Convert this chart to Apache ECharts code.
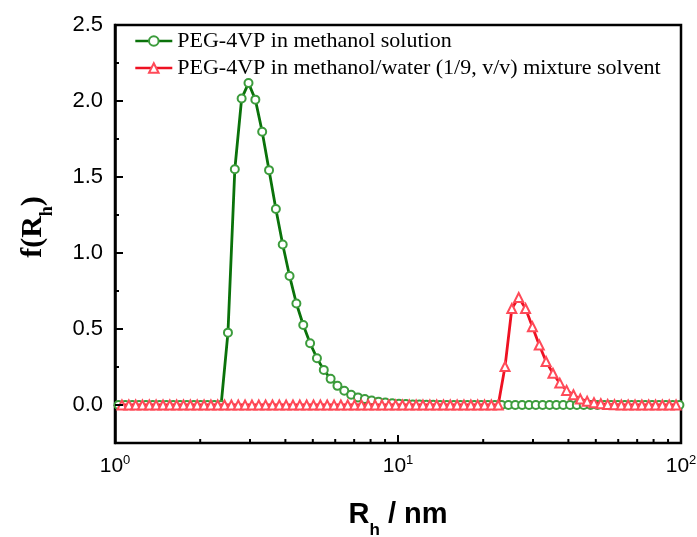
<!DOCTYPE html>
<html>
<head>
<meta charset="utf-8">
<script src="https://cdn.jsdelivr.net/npm/echarts@6/dist/echarts.min.js"></script>
<style>html,body{margin:0;padding:0;background:#fff;}#c{width:697px;height:537px;}</style>
</head>
<body>
<div id="c"></div>
<script>
// ---- data ----
const seriesNames = ['PEG-4VP in methanol solution', 'PEG-4VP in methanol/water (1/9, v/v) mixture solvent'];
const xGreen = [1.029,1.088,1.151,1.216,1.286,1.359,1.437,1.519,1.606,1.698,1.795,1.898,2.007,2.122,2.243,2.371,2.507,2.651,2.802,2.963,3.133,3.312,3.502,3.702,3.914,4.138,4.375,4.626,4.891,5.171,5.467,5.780,6.110,6.460,6.830,7.221,7.635,8.072,8.534,9.022,9.539,10.08,10.66,11.27,11.91,12.60,13.32,14.08,14.88,15.74,16.63,17.59,18.60,19.67,20.78,21.98,23.23,24.56,25.97,27.46,29.03,30.69,32.44,34.31,36.27,38.34,40.54,42.85,45.31,47.91,50.65,53.55,56.61,59.85,63.28,66.90,70.73,74.77,79.05,83.58,88.36,93.41,98.73];
const yGreen = [0,0,0,0,0,0,0,0,0,0,0,0,0,0,0,0,
  0.476,1.551,2.016,2.118,2.009,1.798,1.545,1.289,1.056,0.849,0.668,0.526,0.406,0.308,0.231,0.172,0.126,0.094,0.067,0.050,0.039,0.030,0.022,0.016,0.012,0.009,0.006,0.004,0.003,0.002,0.001,
  0,0,0,0,0,0,0,0,0,0,0,0,0,0,0,0,0,0,0,0,0,0,0,0,0,0,0,0,0,0,0,0,0,0,0,0];
const xRed = [1.058,1.119,1.183,1.250,1.322,1.397,1.478,1.562,1.651,1.746,1.846,1.952,2.064,2.182,2.306,2.438,2.578,2.726,2.881,3.047,3.221,3.405,3.601,3.806,4.024,4.255,4.498,4.756,5.029,5.317,5.621,5.943,6.282,6.642,7.023,7.425,7.850,8.300,8.775,9.277,9.808,10.37,10.96,11.59,12.25,12.96,13.70,14.48,15.30,16.18,17.10,18.09,19.12,20.22,21.37,22.60,23.89,25.25,26.70,28.23,29.85,31.56,33.36,35.28,37.29,39.42,41.68,44.06,46.59,49.26,52.08,55.06,58.21,61.54,65.06,68.79,72.72,76.88,81.28,85.93,90.85,96.05];
const yRed = [0,0,0,0,0,0,0,0,0,0,0,0,0,0,0,0,0,0,0,0,0,0,0,0,0,0,0,0,0,0,0,0,0,0,0,0,0,0,0,0,0,0,0,0,0,0,0,0,0,0,0,0,0,0,0,0,
  0.253,0.635,0.707,0.635,0.515,0.395,0.286,0.209,0.144,0.096,0.067,0.039,0.025,0.015,0.008,0.004,0.002,
  0,0,0,0,0,0,0,0,0];
const xMajorTicks = [1, 10, 100];
const xMinorTicks = [2,3,4,5,6,7,8,9,20,30,40,50,60,70,80,90];
const yMajorTicks = [0, 0.5, 1.0, 1.5, 2.0, 2.5];
const yMinorTicks = [0.25, 0.75, 1.25, 1.75, 2.25];
const xMin = 1, xMax = 100, yMin = -0.25, yMax = 2.5;

// ---- chart ----
const chart = echarts.init(document.getElementById('c'), null, {renderer: 'canvas'});
const pair = (xs, ys) => xs.map((x, i) => [x, ys[i]]);

function xTickItem(len) { return v => [v, yMin, len]; }
function yTickItem(len) { return v => [xMin, v, len]; }

const option = {
  animation: false,
  backgroundColor: '#fff',
  grid: {left: 115, right: 16, top: 25, bottom: 94, outerBoundsMode: 'none', containLabel: false,
         show: true, borderColor: '#000', borderWidth: 2.5, backgroundColor: 'transparent'},
  legend: {
    data: seriesNames,
    orient: 'vertical',
    left: 129, top: 25,
    itemWidth: 37, itemHeight: 12, itemGap: 5,
    lineStyle: {width: 2.6},
    textStyle: {fontFamily: 'Liberation Serif', fontSize: 22, color: '#000', lineHeight: 22},
    selectedMode: false
  },
  xAxis: {
    type: 'log', logBase: 10, min: xMin, max: xMax,
    axisLine: {show: true, lineStyle: {color: '#000', width: 2.5}},
    axisTick: {show: false},
    splitLine: {show: false},
    axisLabel: {
      margin: 11,
      formatter: v => '{b|10}{s|' + Math.round(Math.log10(v)) + '}',
      rich: {
        b: {fontFamily: 'Liberation Sans', fontSize: 21, color: '#000', lineHeight: 24},
        s: {fontFamily: 'Liberation Sans', fontSize: 13, color: '#000', verticalAlign: 'top', lineHeight: 24}
      }
    },
    name: '{a|R}{s|h}{a| / nm}',
    nameLocation: 'middle', nameGap: 56,
    nameTextStyle: {
      rich: {
        a: {fontFamily: 'Liberation Sans', fontWeight: 'bold', fontSize: 29, color: '#000', lineHeight: 32},
        s: {fontFamily: 'Liberation Sans', fontWeight: 'bold', fontSize: 17, color: '#000', verticalAlign: 'bottom', lineHeight: 32, padding: [0,0,-8,0]}
      }
    }
  },
  yAxis: {
    type: 'value', min: yMin, max: yMax, interval: 0.25,
    axisLine: {show: true, lineStyle: {color: '#000', width: 2.5}},
    axisTick: {show: false},
    splitLine: {show: false},
    axisLabel: {
      margin: 12,
      fontFamily: 'Liberation Sans', fontSize: 22, color: '#000',
      formatter: v => (Math.abs(Math.round(v * 2) - v * 2) < 1e-6 && v >= 0) ? v.toFixed(1) : ''
    },
    name: '{a|f(R}{s|h}{a|)}',
    nameLocation: 'middle', nameGap: 65, nameRotate: 90,
    nameTextStyle: {
      padding: [0, 0, 0, 14],
      rich: {
        a: {fontFamily: 'Liberation Serif', fontWeight: 'bold', fontSize: 30, color: '#000', lineHeight: 34},
        s: {fontFamily: 'Liberation Serif', fontWeight: 'bold', fontSize: 18, color: '#000', verticalAlign: 'bottom', lineHeight: 34, padding: [0,0,-6,0]}
      }
    }
  },
  series: [
    {
      name: seriesNames[0], type: 'line', data: pair(xGreen, yGreen),
      symbol: 'emptyCircle', symbolSize: 8,
      itemStyle: {color: '#3c9c3c', borderWidth: 1.3},
      lineStyle: {color: '#0a720a', width: 2.8},
      z: 2
    },
    {
      name: seriesNames[1], type: 'line', data: pair(xRed, yRed),
      symbol: 'emptyTriangle', symbolSize: 9,
      itemStyle: {color: '#ff4a58', borderWidth: 1.3},
      lineStyle: {color: '#ee1122', width: 2.8},
      z: 3
    },
    {
      type: 'custom', silent: true, clip: false, z: 5,
      data: xMinorTicks.map(xTickItem(4)).concat(xMajorTicks.map(xTickItem(8))),
      renderItem: (params, api) => {
        const p = api.coord([api.value(0), api.value(1)]);
        return {type: 'line', shape: {x1: p[0], y1: p[1], x2: p[0], y2: p[1] - api.value(2)}, style: {stroke: '#000', lineWidth: 2}};
      }
    },
    {
      type: 'custom', silent: true, clip: false, z: 5,
      data: yMinorTicks.map(yTickItem(4)).concat(yMajorTicks.map(yTickItem(8))),
      renderItem: (params, api) => {
        const p = api.coord([api.value(0), api.value(1)]);
        return {type: 'line', shape: {x1: p[0], y1: p[1], x2: p[0] + api.value(2), y2: p[1]}, style: {stroke: '#000', lineWidth: 2}};
      }
    }
  ]
};
chart.setOption(option);
</script>
</body>
</html>
